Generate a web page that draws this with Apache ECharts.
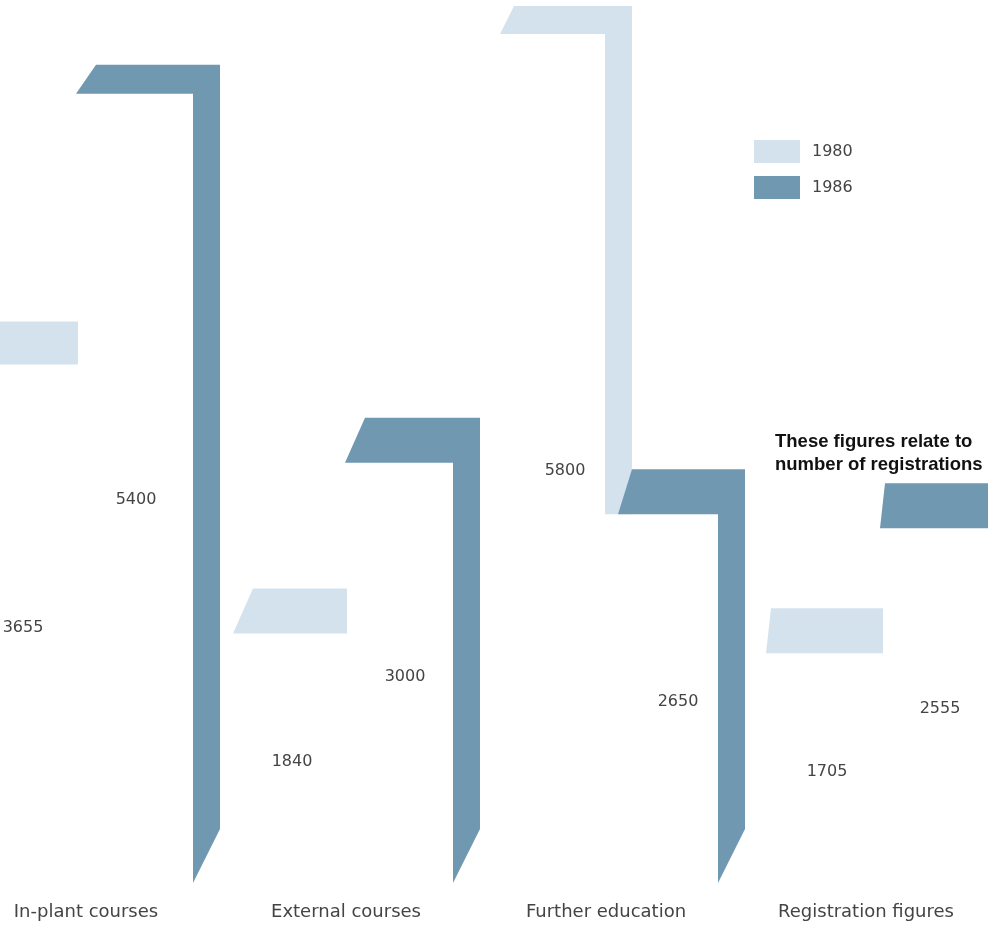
<!DOCTYPE html>
<html><head><meta charset="utf-8">
<script src="https://cdn.jsdelivr.net/npm/echarts@6/dist/echarts.min.js"></script>
<style>html,body{margin:0;padding:0;background:#fff}#c{width:988px;height:930px}</style>
</head><body><div id="c"></div>
<script>
const categories = ['In-plant courses', 'External courses', 'Further education', 'Registration figures'];
const years = ['1980', '1986'];
const values1980 = [3655, 1840, 5800, 1705];
const values1986 = [5400, 3000, 2650, 2555];
const noteLines = ['These figures relate to', 'number of registrations'];

// drawing style (perspective look): pixel offsets from each category centre
const COLORS = { '1980': '#d4e2ee', '1986': '#7198b1' };
const SHIFT = [0, 9, 22, 24];
const SLANT = [20, 20, 14, 5];
const DARK_RIGHT = [134, 134, 139, 152];
const LIGHT_LEFT = [-122, -113, -106, -100];
const LIGHT_RIGHT = [-8, 1, 26, 17];
const STRIP = 27;
const TEXT_FONT = '"DejaVu Sans", sans-serif';
const TEXT_COLOR = '#444444';

function thick(y) { return Math.min(45, 28 + Math.max(0, y - 50) * 0.055); }

function renderBar(isDark) {
  return function (params, api) {
    const idx = api.value(0), v = api.value(1), other = api.value(2);
    const top = api.coord([idx, v]);
    const base = api.coord([idx, 0]);
    const c = top[0], y = top[1], t = thick(y), s = SLANT[idx], sh = SHIFT[idx];
    let pts;
    if (isDark) {
      const xl = c - 10 + sh, xr = c + DARK_RIGHT[idx];
      pts = [[xl + s, y], [xr, y], [xr, base[1] - 30], [xr - STRIP, base[1] + 24], [xr - STRIP, y + t], [xl, y + t]];
    } else {
      const xl = c + LIGHT_LEFT[idx], xr = c + LIGHT_RIGHT[idx];
      if (other < v) {
        const oy = api.coord([idx, other])[1];
        const yEnd = oy + thick(oy);
        pts = [[xl + s, y], [xr, y], [xr, yEnd], [xr - STRIP, yEnd], [xr - STRIP, y + t], [xl, y + t]];
      } else {
        pts = [[xl + s, y], [xr, y], [xr, y + t], [xl, y + t]];
      }
    }
    const mid = api.coord([idx, v / 2]);
    const lx = c + (isDark ? 50 : -63) + sh;
    return {
      type: 'group',
      children: [
        { type: 'polygon', shape: { points: pts }, style: { fill: api.visual('color') } },
        { type: 'text', x: lx, y: mid[1] + 38,
          style: { text: String(v), align: 'center', verticalAlign: 'middle',
                   fontFamily: TEXT_FONT, fontSize: 16, fontWeight: 'normal', fill: TEXT_COLOR } }
      ]
    };
  };
}

const chart = echarts.init(document.getElementById('c'), null, { renderer: 'canvas' });
chart.setOption({
  backgroundColor: '#ffffff',
  animation: false,
  grid: { left: -44, right: -8, top: 6, bottom: 71, containLabel: false, outerBoundsMode: 'none' },
  xAxis: {
    type: 'category', data: categories,
    axisLine: { show: false }, axisTick: { show: false }, splitLine: { show: false },
    axisLabel: { margin: 44, fontFamily: TEXT_FONT, fontSize: 18, fontWeight: 'normal', color: TEXT_COLOR, interval: 0 }
  },
  yAxis: { type: 'value', min: 0, max: 5800, show: false },
  legend: {
    orient: 'vertical', left: 749, top: 135, itemWidth: 46, itemHeight: 23, itemGap: 13,
    icon: 'rect', data: years,
    textStyle: { fontFamily: TEXT_FONT, fontSize: 16, fontWeight: 'normal', color: TEXT_COLOR, padding: [0, 0, 0, 7] }
  },
  graphic: noteLines.map((line, i) => ({
    type: 'text', left: 775, top: 432 + i * 23,
    style: { text: line, fontFamily: '"Liberation Sans", Arial, sans-serif', fontSize: 18.5, fontWeight: 'bold', fill: '#111' }
  })),
  series: [
    { name: '1980', type: 'custom', itemStyle: { color: COLORS['1980'] },
      renderItem: renderBar(false), encode: { x: 0, y: 1 },
      data: categories.map((_, i) => [i, values1980[i], values1986[i]]) },
    { name: '1986', type: 'custom', itemStyle: { color: COLORS['1986'] },
      renderItem: renderBar(true), encode: { x: 0, y: 1 },
      data: categories.map((_, i) => [i, values1986[i], values1980[i]]) }
  ]
});
</script>
</body></html>
